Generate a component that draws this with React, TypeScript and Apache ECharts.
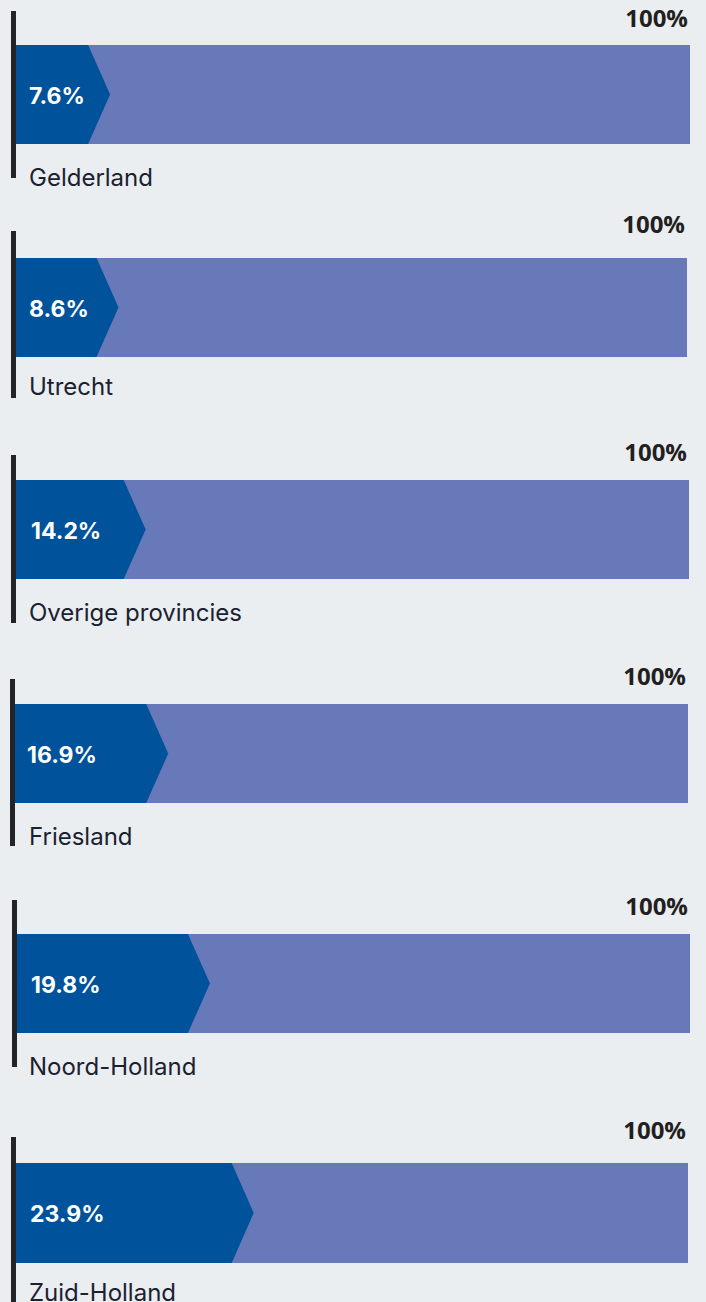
import React, { useEffect, useRef } from "react";
import * as echarts from "echarts";

// ---- data ----
const categories = ["Gelderland", "Utrecht", "Overige provincies", "Friesland", "Noord-Holland", "Zuid-Holland"];
const shareValues = [7.6, 8.6, 14.2, 16.9, 19.8, 23.9];
const totalValues = [100, 100, 100, 100, 100, 100];
// length of the dark bar body as drawn in the picture (percent of the full track)
const fillShown = [10.7, 12.0, 16.0, 19.5, 25.4, 32.1];

// ---- layout (pixel positions per row) ----
const rows = [
  { top: 45, h: 99, left: 16, right: 690, lineTop: 11, lineBottom: 178, totalY: 17, catY: 177, labelX: 29 },
  { top: 258, h: 99, left: 16, right: 687, lineTop: 231, lineBottom: 398, totalY: 223, catY: 386, labelX: 29 },
  { top: 480, h: 99, left: 16, right: 689, lineTop: 455, lineBottom: 623, totalY: 451, catY: 612, labelX: 31 },
  { top: 704, h: 99, left: 15, right: 688, lineTop: 679, lineBottom: 846, totalY: 675, catY: 836, labelX: 27 },
  { top: 934, h: 99, left: 17, right: 690, lineTop: 900, lineBottom: 1067, totalY: 905, catY: 1066, labelX: 31 },
  { top: 1163, h: 100, left: 16, right: 688, lineTop: 1137, lineBottom: 1310, totalY: 1129, catY: 1292, labelX: 30 },
];

const W = 706;
const H = 1302;
const BG = "#eaeef1";
const LIGHT = "#6779b9";
const DARK = "#00529b";
const TIP = 22;

export default function App() {
  const ref = useRef<HTMLDivElement>(null);
  useEffect(() => {
    document.body.style.margin = "0";
    if (!ref.current) return;
    const chart = echarts.init(ref.current, null, { renderer: "svg" });
    const grids = rows.map((r) => ({ left: r.left, width: r.right - r.left, top: r.top, height: r.h, containLabel: false }));
    const xAxes = rows.map((_, i) => ({ type: "value", gridIndex: i, min: 0, max: 100, show: false }));
    const yAxes = rows.map((_, i) => ({ type: "category", gridIndex: i, data: [categories[i]], show: false }));
    const series = rows.map((r, i) => ({
      type: "custom",
      xAxisIndex: i,
      yAxisIndex: i,
      encode: { x: 0, y: 1 },
      data: [[fillShown[i], 0, shareValues[i], totalValues[i]]],
      renderItem: (params: any, api: any) => {
        const fill = api.value(0);
        const share = api.value(2);
        const total = api.value(3);
        const c = api.coord([0, 0]);
        const band = api.size([0, 1])[1];
        const x0 = c[0];
        const cy = c[1];
        const top = cy - band / 2;
        const bottom = cy + band / 2;
        const xTot = api.coord([total, 0])[0];
        const xf = api.coord([fill, 0])[0];
        return {
          type: "group",
          children: [
            { type: "rect", shape: { x: x0, y: top, width: xTot - x0, height: band }, style: { fill: LIGHT } },
            {
              type: "polygon",
              shape: { points: [[x0, top], [xf, top], [xf + TIP, cy], [xf, bottom], [x0, bottom]] },
              style: { fill: DARK },
            },
            {
              type: "rect",
              shape: { x: x0 - 5, y: r.lineTop, width: 5, height: r.lineBottom - r.lineTop },
              style: { fill: "#222428" },
            },
            {
              type: "text",
              style: {
                text: share.toFixed(1) + "%",
                x: r.labelX,
                y: cy + 1,
                fill: "#ffffff",
                fontFamily: "Inter",
                fontWeight: "bold",
                fontSize: 23,
                align: "left",
                verticalAlign: "middle",
              },
            },
            {
              type: "text",
              style: {
                text: total + "%",
                x: xTot - 2,
                y: r.totalY,
                fill: "#231f20",
                fontFamily: "Open Sans",
                fontWeight: "bold",
                fontSize: 24,
                align: "right",
                verticalAlign: "middle",
              },
            },
            {
              type: "text",
              style: {
                text: categories[i],
                x: 29,
                y: r.catY,
                fill: "#1b2130",
                fontFamily: "Inter",
                fontSize: 24,
                align: "left",
                verticalAlign: "middle",
              },
            },
          ],
        };
      },
    }));
    chart.setOption({
      animation: false,
      backgroundColor: BG,
      grid: grids,
      xAxis: xAxes,
      yAxis: yAxes,
      series,
    });
    return () => chart.dispose();
  }, []);
  return <div ref={ref} style={{ width: W, height: H }} />;
}
